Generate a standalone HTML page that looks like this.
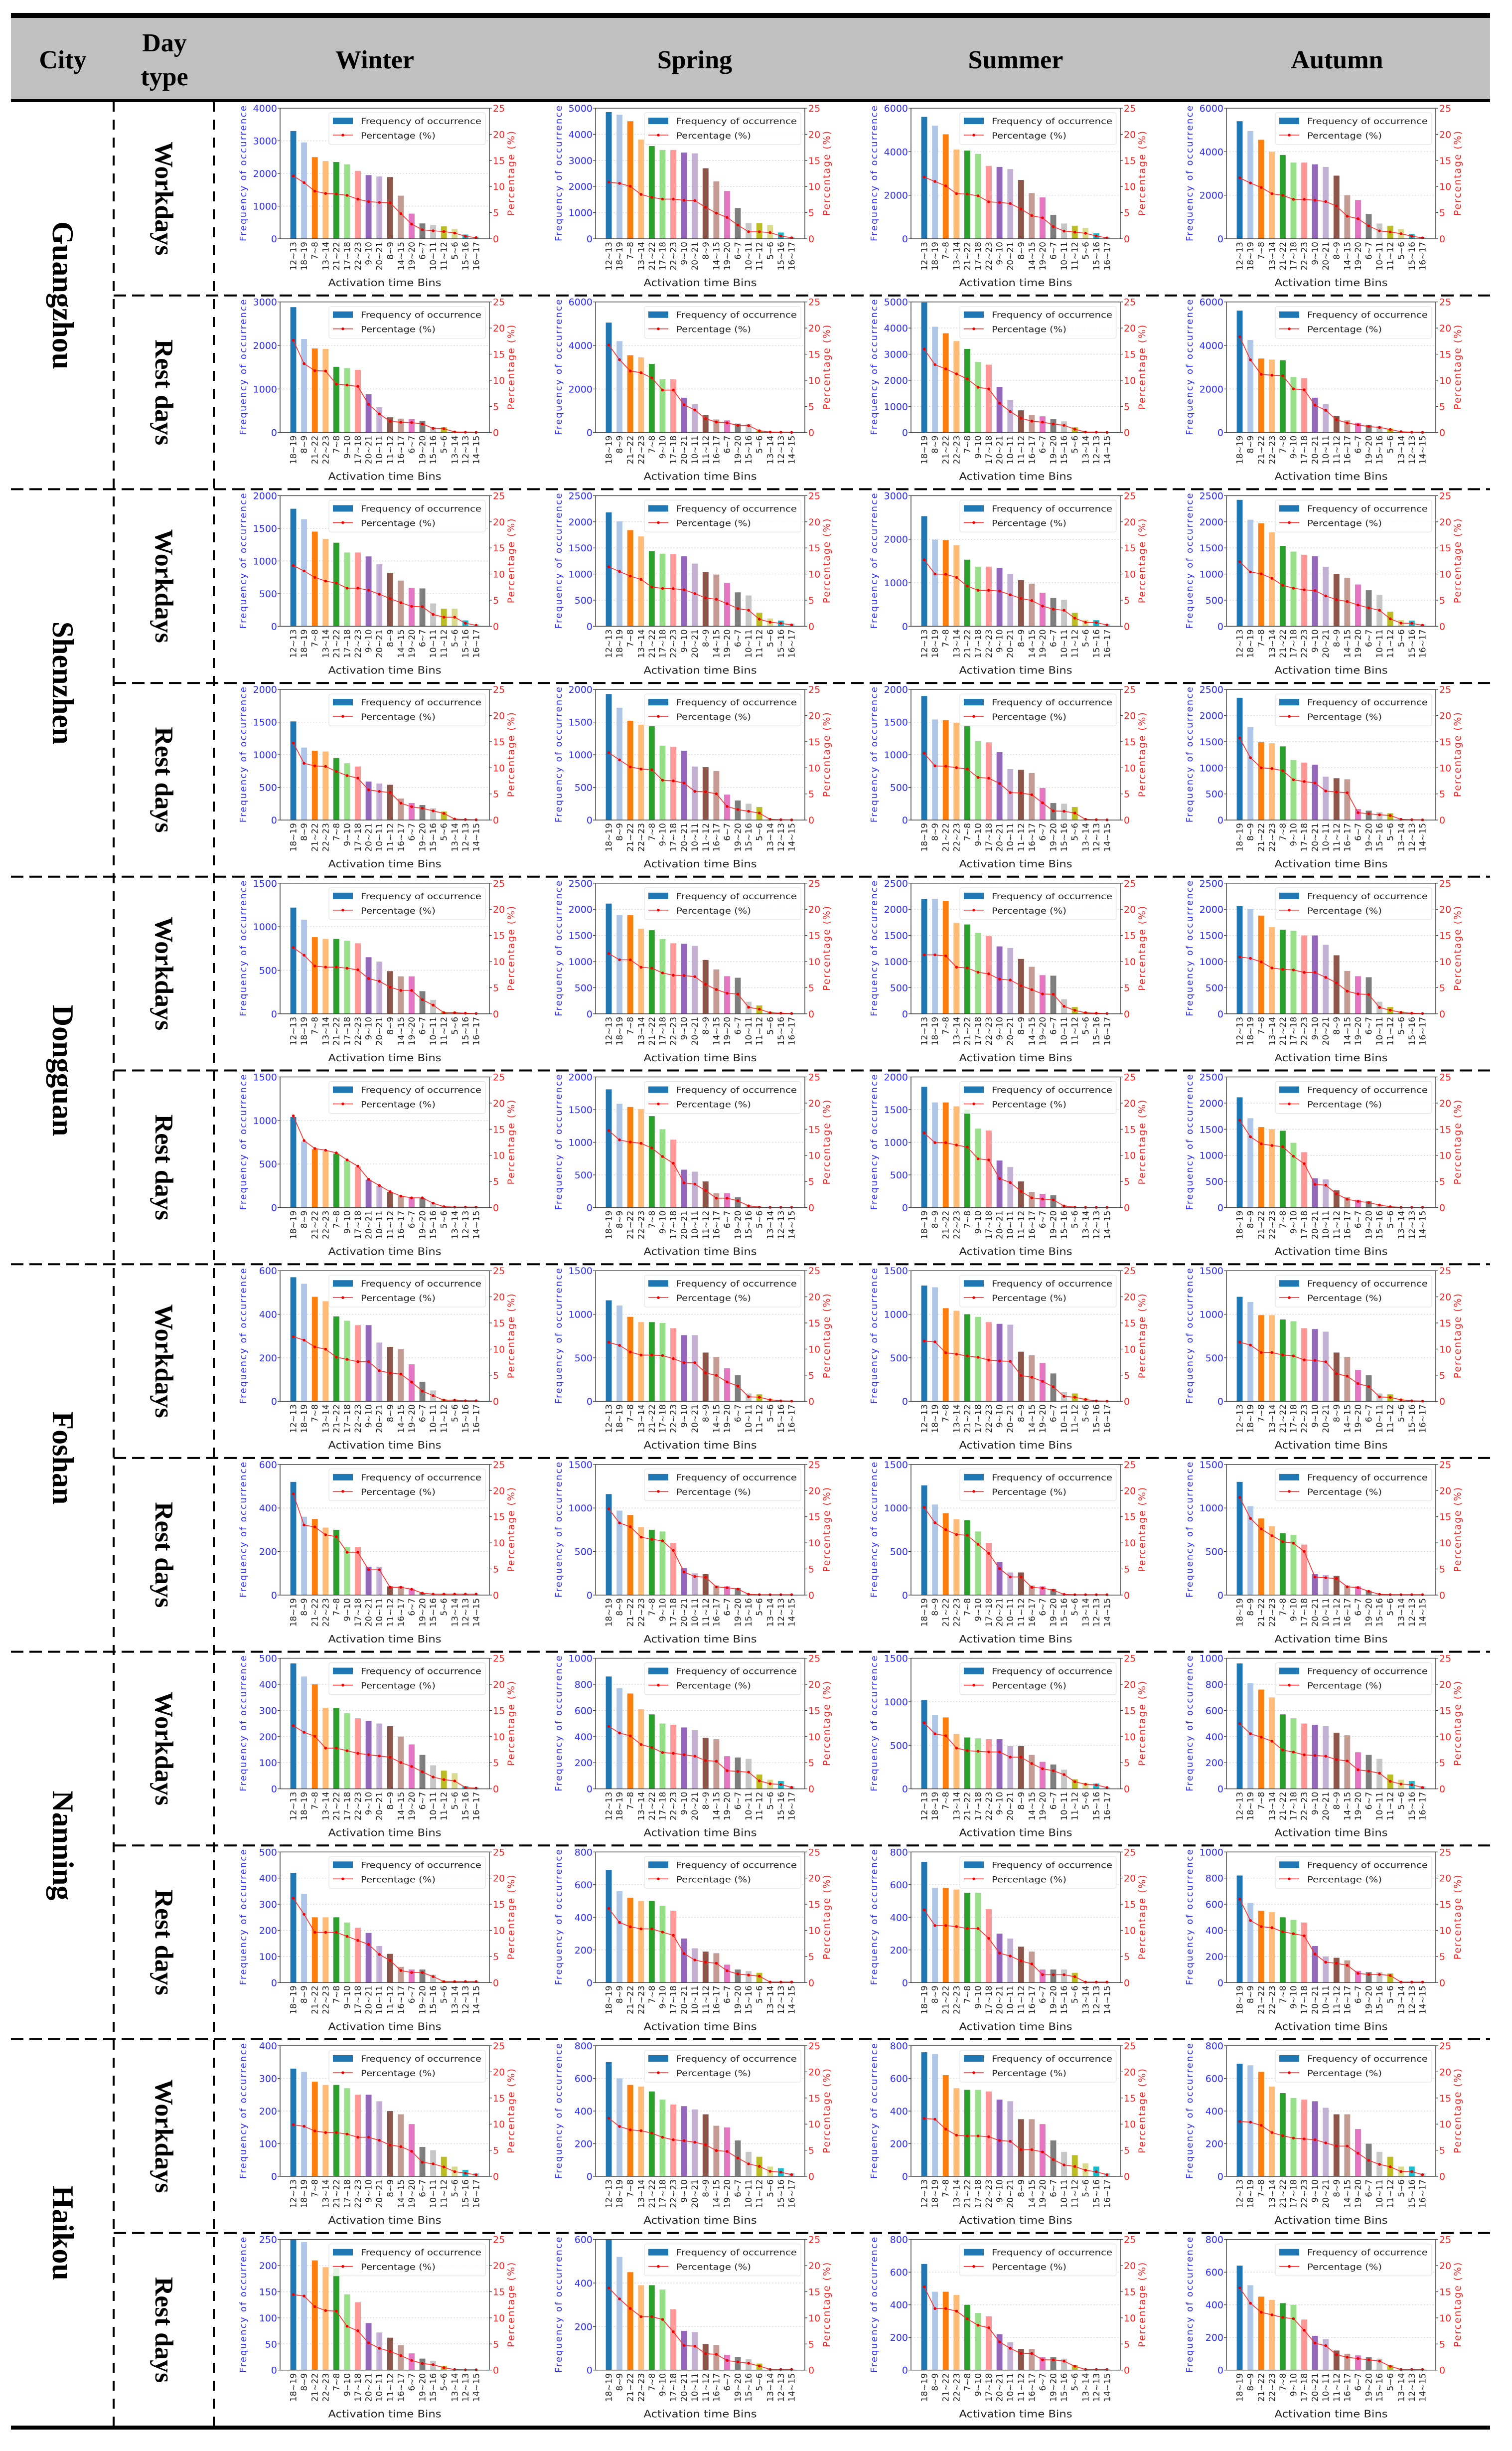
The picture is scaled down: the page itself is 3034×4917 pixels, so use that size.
<!DOCTYPE html>
<html><head><meta charset="utf-8">
<style>
html,body{margin:0;padding:0;background:#fff;}
svg{display:block;}
</style></head>
<body>
<svg id="fig" xmlns="http://www.w3.org/2000/svg" width="3034" height="4917" viewBox="0 0 3034 4917">
<rect x="0" y="0" width="3034" height="4917" fill="#fff"/>
<g>
<rect x="22" y="36" width="2968" height="164" fill="#c0c0c0"/>
<rect x="22" y="26" width="2968" height="10" fill="#000"/>
<rect x="22" y="199" width="2968" height="6" fill="#000"/>
<g font-family="Liberation Serif, serif" font-weight="bold" font-size="52" text-anchor="middle" fill="#000">
<text x="126" y="137">City</text>
<text x="330" y="103"><tspan x="330">Day</tspan><tspan x="330" dy="68">type</tspan></text>
<text x="752" y="137">Winter</text>
<text x="1394" y="137">Spring</text>
<text x="2038" y="137">Summer</text>
<text x="2683" y="137">Autumn</text>
</g>
</g>
<rect x="22" y="4866" width="2968" height="8" fill="#000"/>
<g id="grid"></g>
<g id="charts"></g>
</svg>
<script>
const cities = ["Guangzhou","Shenzhen","Dongguan","Foshan","Nanning","Haikou"];
const dayTypes = ["Workdays","Rest days"];
const seasons = ["Winter","Spring","Summer","Autumn"];
const workLabels = ["12~13","18~19","7~8","13~14","21~22","17~18","22~23","9~10","20~21","8~9","14~15","19~20","6~7","10~11","11~12","5~6","15~16","16~17"];
const restLabels = ["18~19","8~9","21~22","22~23","7~8","9~10","17~18","20~21","10~11","11~12","16~17","6~7","19~20","15~16","5~6","13~14","12~13","14~15"];
const pctTicks = [0,5,10,15,20,25];
const pctMax = 25;
const yMax = [
 [4000,5000,6000,6000],[3000,6000,5000,6000],
 [2000,2500,3000,2500],[2000,2000,2000,2500],
 [1500,2500,2500,2500],[1500,2000,2000,2500],
 [600,1500,1500,1500],[600,1500,1500,1500],
 [500,1000,1500,1000],[500,800,800,1000],
 [400,800,800,800],[250,600,800,800]
];
const yStep = [
 [1000,1000,2000,2000],[1000,2000,1000,2000],
 [500,500,1000,500],[500,500,500,500],
 [500,500,500,500],[500,500,500,500],
 [200,500,500,500],[200,500,500,500],
 [100,200,500,200],[100,200,200,200],
 [100,200,200,200],[50,200,200,200]
];
const freqGZW = [
 [3300,2950,2500,2380,2350,2280,2080,1950,1910,1890,1320,770,470,420,380,300,130,60],
 [4850,4750,4500,3800,3550,3400,3400,3300,3270,2700,2200,1830,1180,600,600,530,240,80],
 [5600,5200,4800,4100,4050,3900,3350,3300,3200,2700,2100,1900,1100,700,600,500,250,80],
 [5400,4950,4550,4000,3850,3500,3500,3420,3300,2900,2000,1780,1140,700,600,450,230,80]];
const freqGZR = [
 [2880,2150,1930,1920,1510,1480,1440,880,580,350,320,310,270,130,120,20,10,5],
 [5050,4200,3550,3450,3150,2450,2450,1600,1300,800,600,560,410,400,100,30,20,10],
 [4980,4050,3800,3500,3200,2700,2600,1750,1250,850,680,620,510,430,200,30,20,10],
 [5600,4250,3400,3350,3320,2550,2500,1600,1300,750,560,450,350,300,180,50,20,10]];
const freqSZW = [
 [1800,1640,1450,1340,1280,1130,1130,1070,950,820,700,590,580,350,270,270,90,30],
 [2180,2010,1840,1720,1440,1390,1380,1340,1200,1040,990,830,650,590,260,150,110,50],
 [2530,1990,1980,1860,1530,1370,1370,1340,1200,1060,980,770,650,610,310,150,140,50],
 [2420,2040,1970,1800,1540,1430,1370,1340,1140,1000,930,800,690,600,280,120,110,40]];
const freqSZR = [
 [1510,1110,1060,1050,950,870,820,590,560,540,330,260,230,180,130,20,10,5],
 [1930,1720,1520,1460,1440,1140,1120,1060,820,810,750,390,300,250,200,20,10,5],
 [1900,1540,1530,1490,1450,1210,1190,1040,780,770,720,490,260,250,200,20,10,5],
 [2340,1780,1490,1470,1410,1150,1100,1060,830,800,780,210,180,150,130,20,10,5]];
const freqDGW = [
 [1220,1080,880,860,860,840,810,650,600,490,430,430,260,160,20,20,10,5],
 [2110,1890,1890,1630,1600,1430,1350,1340,1300,1030,850,720,690,230,160,40,20,10],
 [2200,2200,2160,1740,1710,1550,1490,1290,1260,1050,900,740,730,280,130,40,20,10],
 [2060,2010,1880,1660,1610,1590,1500,1500,1320,1120,820,720,700,230,130,50,20,10]];
const freqDGR = [
 [1040,760,670,650,620,540,470,320,250,180,130,110,110,50,10,5,5,5],
 [1810,1590,1540,1510,1400,1200,1040,580,550,400,220,220,160,40,10,5,5,5],
 [1850,1610,1610,1550,1500,1210,1180,720,620,400,240,210,190,40,10,5,5,5],
 [2110,1710,1540,1500,1470,1240,1060,560,540,330,200,150,120,60,20,5,5,5]];
const freqFSW = [
 [570,540,480,460,390,370,350,350,270,250,240,170,90,50,10,10,5,5],
 [1160,1100,970,910,910,900,840,760,760,560,510,380,300,90,80,30,10,5],
 [1330,1310,1070,1040,1000,970,910,890,880,570,530,440,320,110,90,40,10,5],
 [1200,1140,990,990,940,920,840,830,800,560,510,360,300,90,80,30,10,5]];
const freqFSR = [
 [520,360,350,310,300,220,220,130,130,40,40,30,10,5,5,5,5,5],
 [1160,970,920,780,750,730,600,310,250,240,110,100,80,10,5,5,5,5],
 [1260,1040,940,870,860,730,600,380,260,260,110,100,70,10,5,5,5,5],
 [1300,1020,880,790,710,690,580,240,230,220,110,100,50,10,5,5,5,5]];
const freqNNW = [
 [480,430,400,310,310,290,270,260,250,240,200,170,130,90,70,60,10,5],
 [860,770,730,610,570,500,490,470,450,390,380,250,240,230,110,70,60,20],
 [1020,850,820,630,590,580,570,570,490,490,390,310,280,220,110,70,60,20],
 [960,810,760,700,570,540,500,490,480,430,410,280,260,230,110,70,60,20]];
const freqNNR = [
 [420,340,250,250,250,230,210,190,140,110,60,50,50,30,5,5,5,5],
 [690,560,520,500,500,470,440,270,210,190,180,110,80,70,60,5,5,5],
 [740,580,580,570,550,550,450,300,270,220,190,80,80,80,60,5,5,5],
 [820,610,550,540,500,480,460,280,200,190,170,90,80,80,70,5,5,5]];
const freqHKW = [
 [330,320,290,280,280,270,250,250,230,200,190,160,90,80,60,30,20,10],
 [700,600,560,550,520,470,440,430,410,380,310,300,220,150,120,60,50,20],
 [760,750,620,540,530,530,520,470,460,350,350,320,220,150,130,80,60,20],
 [690,680,640,550,510,480,470,460,420,380,380,290,200,150,120,60,60,20]];
const freqHKR = [
 [250,245,210,197,195,145,130,90,72,62,48,32,22,18,8,2,1,1],
 [600,520,450,390,390,370,280,180,175,120,115,70,60,50,30,5,5,5],
 [650,480,480,460,400,350,330,220,170,130,130,80,80,70,30,5,5,5],
 [640,520,450,430,410,400,310,210,190,120,100,90,80,70,30,5,5,5]];
const freqRows = [freqGZW,freqGZR,freqSZW,freqSZR,freqDGW,freqDGR,freqFSW,freqFSR,freqNNW,freqNNR,freqHKW,freqHKR];

const barColors = ["#1f77b4","#aec7e8","#ff7f0e","#ffbb78","#2ca02c","#98df8a","#ff9896","#9467bd","#c5b0d5","#8c564b","#c49c94","#e377c2","#7f7f7f","#c7c7c7","#bcbd22","#dbdb8d","#17becf","#9edae5"];
const NS = "http://www.w3.org/2000/svg";
function mk(tag, attrs, parent){ const e=document.createElementNS(NS,tag); for(const k in attrs) e.setAttribute(k,attrs[k]); if(parent) parent.appendChild(e); return e; }

const TOP=204, ROWH=388.7, BOTTOM=4866;
const grid=document.getElementById('grid');
[228,429].forEach(x=>{
  const l=mk('line',{x1:x,y1:TOP,x2:x,y2:BOTTOM,stroke:'#000','stroke-width':4,'stroke-dasharray':'20 16'},grid);
  
  
});
for(let r=1;r<12;r++){
  const y=TOP+r*ROWH;
  const x1 = (r%2===0)?22:228;
  const l=mk('line',{x1:x1,y1:y,x2:2990,y2:y,stroke:'#000','stroke-width':4,'stroke-dasharray':'25 12'},grid);
  
  
}
cities.forEach((c,i)=>{
  const cy=TOP+(2*i+1)*ROWH;
  const t=mk('text',{x:0,y:0,transform:`translate(106 ${cy}) rotate(90)`,'text-anchor':'middle','font-family':'Liberation Serif, serif','font-weight':'bold','font-size':60},grid);
  t.textContent=c;
  
  
  dayTypes.forEach((d,j)=>{
    const dy=TOP+(2*i+j+0.5)*ROWH;
    const t2=mk('text',{x:0,y:0,transform:`translate(312 ${dy}) rotate(90)`,'text-anchor':'middle','font-family':'Liberation Serif, serif','font-weight':'bold','font-size':52},grid);
    t2.textContent=d;
    
    
  });
});

const charts=document.getElementById('charts');
function drawChart(r,c){
  const vals=freqRows[r][c];
  const labels=(r%2===0)?workLabels:restLabels;
  const ym=yMax[r][c], ys=yStep[r][c];
  const rt=TOP+r*ROWH;
  const L=562+c*633, W=420, T=rt+13, B=rt+275, H=B-T;
  const n=vals.length, m=1.23;
  const s=W/(n-1+2*m);
  const xOf=i=>L+(m+i)*s;
  const yOf=v=>B-v/ym*H;
  const pOf=p=>B-p/pctMax*H;
  const total=vals.reduce((a,b)=>a+b,0);
  const g=mk('g',{},charts);
  
  
  for(let v=0; v<=ym+1e-6; v+=ys){
    const y=yOf(v);
    if(v>0){ const gl=mk('line',{x1:L,y1:y,x2:L+W,y2:y,stroke:'#ddd','stroke-width':1.5,'stroke-dasharray':'3 3'},g);
        }
    mk('line',{x1:L-5,y1:y,x2:L,y2:y,stroke:'#333','stroke-width':1.2},g);
    const t=mk('text',{x:L-6,y:y+7,'text-anchor':'end','font-family':'DejaVu Sans, sans-serif','font-size':19,fill:'#2b2bff'},g);
    t.textContent=v;
    
    
  }
  pctTicks.forEach(p=>{
    const y=pOf(p);
    mk('line',{x1:L+W,y1:y,x2:L+W+5,y2:y,stroke:'#333','stroke-width':1.2},g);
    const t=mk('text',{x:L+W+7,y:y+7,'font-family':'DejaVu Sans, sans-serif','font-size':19,fill:'#ff2020'},g);
    t.textContent=p;
    
    
  });
  vals.forEach((v,i)=>{
    const bw=s*0.55, y=yOf(v);
    const b=mk('rect',{x:xOf(i)-bw/2,y:y,width:bw,height:B-y,fill:barColors[i%barColors.length]},g);
    
    
    const t=mk('text',{x:0,y:0,transform:`translate(${xOf(i)+6} ${B+6}) rotate(-90)`,'text-anchor':'end','font-family':'DejaVu Sans, sans-serif','font-size':17,fill:'#222'},g);
    t.textContent=labels[i];
    
    
  });
  const pts=vals.map((v,i)=>`${xOf(i).toFixed(1)},${pOf(v/total*100).toFixed(1)}`).join(' ');
  const pl=mk('polyline',{points:pts,fill:'none',stroke:'#ff2a2a','stroke-width':1.6},g);
  
  
  vals.forEach((v,i)=>{
    const d=mk('circle',{cx:xOf(i),cy:pOf(v/total*100),r:2.8,fill:'#e00'},g);
    
    
  });
  const fr=mk('rect',{x:L,y:T,width:W,height:H,fill:'none',stroke:'#444','stroke-width':1.5},g);
  
  
  const lg=mk('g',{},g);
  
  
  mk('rect',{x:L+98,y:T+9,width:314,height:64,rx:4,fill:'#fff','fill-opacity':0.85,stroke:'#e4e4e4','stroke-width':1.2},lg);
  mk('rect',{x:L+106,y:T+19,width:40,height:13,fill:'#1f77b4'},lg);
  const t1=mk('text',{x:L+162,y:T+32,'font-family':'DejaVu Sans, sans-serif','font-size':17,fill:'#222',textLength:242,lengthAdjust:'spacingAndGlyphs'},lg);
  t1.textContent='Frequency of occurrence';
  
  
  mk('line',{x1:L+106,y1:T+54,x2:L+146,y2:T+54,stroke:'#ff2a2a','stroke-width':1.6},lg);
  mk('circle',{cx:L+126,cy:T+54,r:2.8,fill:'#e00'},lg);
  const t2=mk('text',{x:L+162,y:T+61,'font-family':'DejaVu Sans, sans-serif','font-size':17,fill:'#222',textLength:150,lengthAdjust:'spacingAndGlyphs'},lg);
  t2.textContent='Percentage (%)';
  
  
  const mid=(T+B)/2;
  const yt=mk('text',{x:0,y:0,transform:`translate(${L-68} ${mid}) rotate(-90)`,'text-anchor':'middle','font-family':'DejaVu Sans, sans-serif','font-size':18,fill:'#2b2bff',textLength:272,lengthAdjust:'spacing'},g);
  yt.textContent='Frequency of occurrence';
  
  
  const y2=mk('text',{x:0,y:0,transform:`translate(${L+W+50} ${mid}) rotate(-90)`,'text-anchor':'middle','font-family':'DejaVu Sans, sans-serif','font-size':19,fill:'#ff2020',textLength:170,lengthAdjust:'spacing'},g);
  y2.textContent='Percentage (%)';
  
  
  const xt=mk('text',{x:L+W/2,y:rt+370,'text-anchor':'middle','font-family':'DejaVu Sans, sans-serif','font-size':20,fill:'#222',textLength:227,lengthAdjust:'spacingAndGlyphs'},g);
  xt.textContent='Activation time Bins';
  
  
}
for(let r=0;r<12;r++) for(let c=0;c<4;c++) drawChart(r,c);
</script>
</body></html>
